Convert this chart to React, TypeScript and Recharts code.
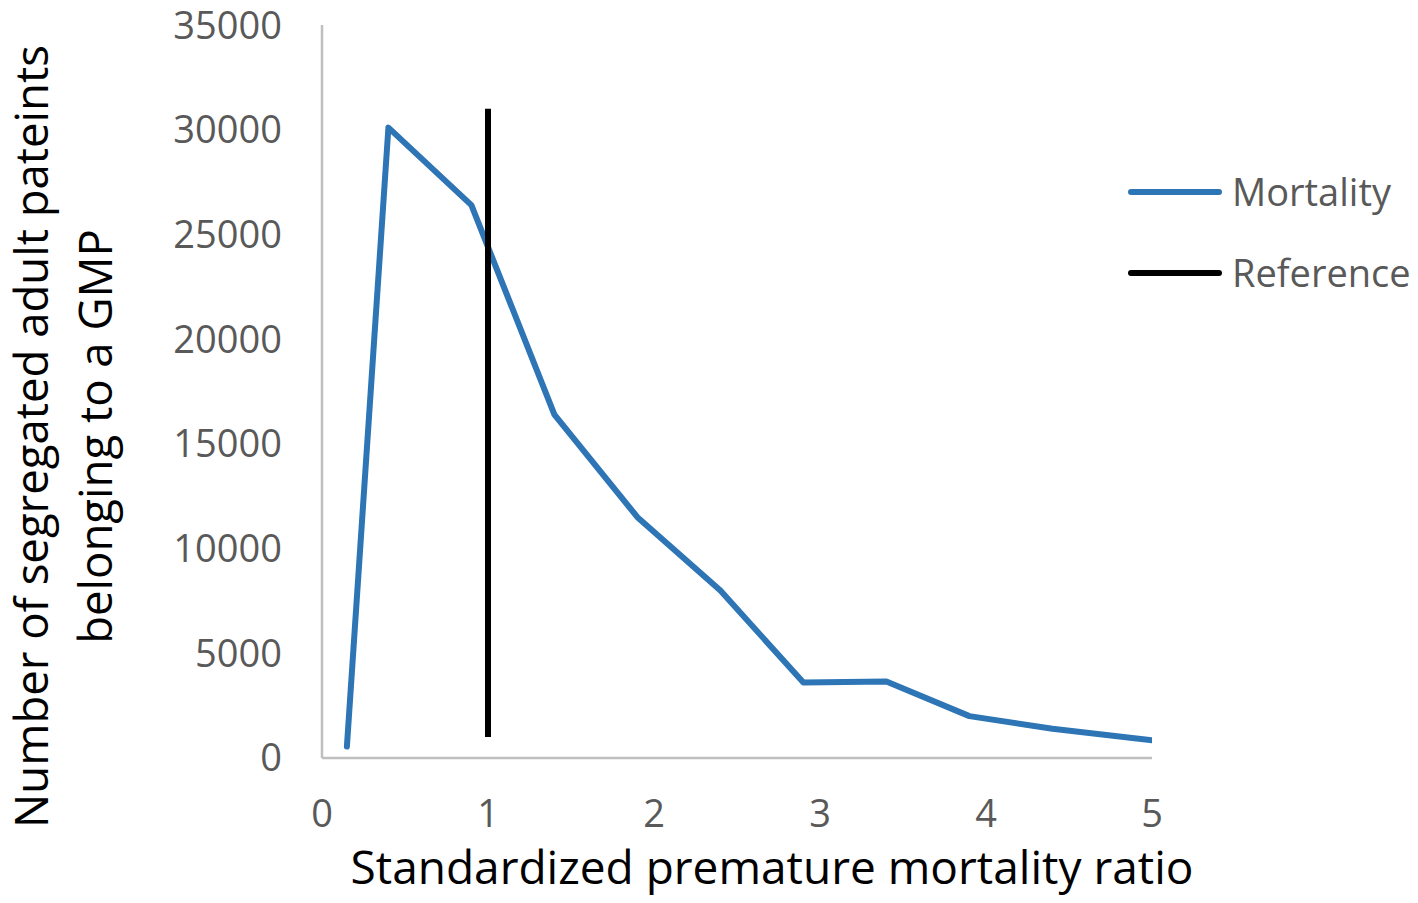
import React from 'react';
import { LineChart, Line, XAxis, YAxis, Legend, Label } from 'recharts';

const smrValues = [0.15, 0.4, 0.9, 1.4, 1.9, 2.4, 2.9, 3.4, 3.9, 4.4, 5.0];
const patientCounts = [550, 30100, 26400, 16400, 11500, 8000, 3600, 3650, 2000, 1400, 850];
const referenceX = [1, 1];
const referenceY = [1000, 31000];
const xTicks = [0, 1, 2, 3, 4, 5];
const yTicks = [0, 5000, 10000, 15000, 20000, 25000, 30000, 35000];
const seriesNames = ['Mortality', 'Reference'];

const mortalityData = smrValues.map((x, i) => ({ x, y: patientCounts[i] }));
const referenceData = referenceX.map((x, i) => ({ x, y: referenceY[i] }));

const FONT = '"Open Sans", sans-serif';
const BLUE = '#2E75B6';
const GRAY = '#595959';

const YTitle = (props: any) => {
  const vb = props.viewBox || { x: 0, y: 25, width: 322, height: 733 };
  const cy = vb.y + vb.height / 2 + 45;
  const x1 = vb.x + 48;
  const x2 = vb.x + 112;
  return (
    <g>
      <text x={x1} y={cy} transform={`rotate(-90, ${x1}, ${cy})`} textAnchor="middle" fontFamily={FONT} fontSize={45.5} fill="#000">
        Number of segregated adult pateints
      </text>
      <text x={x2} y={cy} transform={`rotate(-90, ${x2}, ${cy})`} textAnchor="middle" fontFamily={FONT} fontSize={45.5} fill="#000">
        belonging to a GMP
      </text>
    </g>
  );
};

const XTitle = (props: any) => {
  const vb = props.viewBox || { x: 322, y: 758, width: 830, height: 145 };
  const cx = vb.x + vb.width / 2 + 35;
  return (
    <text x={cx} y={vb.y + 126} textAnchor="middle" fontFamily={FONT} fontSize={46} fill="#000">
      Standardized premature mortality ratio
    </text>
  );
};

const LegendContent = () => {
  const colors = [BLUE, '#000'];
  return (
    <svg width={298} height={160}>
      {seriesNames.map((name, i) => {
        const y = 32 + i * 81;
        return (
          <g key={name}>
            <line x1={11} x2={99} y1={y} y2={y} stroke={colors[i]} strokeWidth={6} strokeLinecap="round" />
            <text x={112} y={y} dy="0.36em" fontFamily={FONT} fontSize={38} fill={GRAY}>
              {name}
            </text>
          </g>
        );
      })}
    </svg>
  );
};

export default function App() {
  return (
    <div style={{ position: 'absolute', left: 0, top: 0, width: 1418, height: 903, background: '#fff' }}>
      <LineChart width={1418} height={903} margin={{ top: 25, right: 266, bottom: 0, left: 0 }}>
        <XAxis
          type="number"
          dataKey="x"
          domain={[0, 5]}
          ticks={xTicks}
          allowDataOverflow
          height={145}
          tickLine={false}
          tickSize={0}
          tickMargin={42}
          axisLine={{ stroke: '#BFBFBF', strokeWidth: 2.5 }}
          tick={{ fontSize: 38, fill: GRAY, fontFamily: FONT }}
        >
          <Label content={XTitle} />
        </XAxis>
        <YAxis
          type="number"
          domain={[0, 35000]}
          ticks={yTicks}
          width={322}
          tickLine={false}
          tickSize={0}
          tickMargin={40}
          axisLine={{ stroke: '#BFBFBF', strokeWidth: 2.5 }}
          tick={{ fontSize: 38, fill: GRAY, fontFamily: FONT }}
        >
          <Label content={YTitle} />
        </YAxis>
        <Legend
          layout="horizontal"
          align="center"
          verticalAlign="middle"
          content={LegendContent}
          wrapperStyle={{ position: 'absolute', left: 1120, top: 160, width: 298, height: 160 }}
        />
        <Line
          data={mortalityData}
          dataKey="y"
          name={seriesNames[0]}
          type="linear"
          stroke={BLUE}
          strokeWidth={6}
          strokeLinejoin="round"
          strokeLinecap="round"
          dot={false}
          activeDot={false}
          isAnimationActive={false}
        />
        <Line
          data={referenceData}
          dataKey="y"
          name={seriesNames[1]}
          type="linear"
          stroke="#000"
          strokeWidth={6}
          strokeLinecap="butt"
          dot={false}
          activeDot={false}
          isAnimationActive={false}
        />
      </LineChart>
    </div>
  );
}
